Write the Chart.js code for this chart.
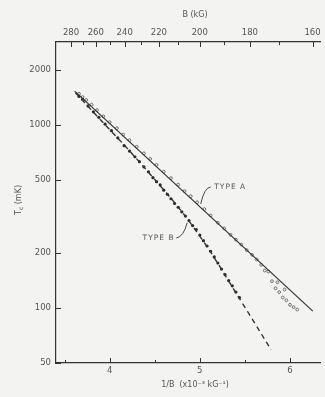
<!DOCTYPE html>
<html>
<head>
<meta charset="utf-8">
<script src="https://cdn.jsdelivr.net/npm/chart.js@4.4.0/dist/chart.umd.min.js"></script>
<style>
  html, body { margin: 0; padding: 0; background: #f3f3f1; }
  #wrap { width: 325px; height: 397px; }
</style>
</head>
<body>
<div id="wrap"><canvas id="chart"></canvas></div>
<script>
// 1/B in units of 1e-3 kG^-1, Tc in mK
const invB_A = [3.66, 3.70, 3.74, 3.80, 3.86, 3.93, 4.00, 4.08, 4.15, 4.22, 4.30, 4.38, 4.45, 4.52,
                4.60, 4.68, 4.76, 4.83, 4.90, 4.97, 5.05, 5.12, 5.20, 5.27, 5.34, 5.40, 5.46, 5.52,
                5.58, 5.63, 5.68, 5.72, 5.76, 5.80, 5.84, 5.86, 5.88, 5.92, 5.94, 5.96, 6.00, 6.04, 6.08];
const tc_A   = [1480, 1420, 1370, 1290, 1205, 1115, 1035, 960, 885, 825, 760, 700, 652, 605,
                555, 512, 472, 435, 408, 378, 347, 320, 292, 272, 251, 236, 222, 207,
                195, 184, 172, 160, 158, 140, 128, 138, 122, 114, 126, 110, 104, 101, 98];

const invB_B = [3.66, 3.70, 3.76, 3.82, 3.88, 3.95, 4.02, 4.09, 4.16, 4.22, 4.28, 4.33, 4.38, 4.43,
                4.48, 4.52, 4.56, 4.60, 4.64, 4.68, 4.72, 4.76, 4.80, 4.84, 4.88, 4.92, 4.96, 5.00,
                5.04, 5.08, 5.12, 5.16, 5.20, 5.24, 5.28, 5.32, 5.36, 5.40, 5.44];
const tc_B   = [1430, 1380, 1270, 1180, 1100, 1010, 930, 850, 770, 720, 670, 630, 590, 555,
                515, 490, 470, 440, 418, 395, 372, 355, 335, 318, 300, 282, 268, 250,
                233, 218, 204, 190, 176, 163, 152, 141, 132, 122, 114];

// fitted lines
const fitA_x = [3.612, 6.253];
const fitA_y = [1531, 96];
const curveB_x = [3.62, 3.90, 4.20, 4.50, 4.80, 5.10, 5.40, 5.60, 5.79];
const curveB_y = [1500, 1065, 740, 503, 336, 209, 121, 84, 59];

// axes
const xTicks = [4, 5, 6];
const xMinor = [3.5, 4.5, 5.5];
const yTicks = [50, 100, 200, 500, 1000, 2000];
const bTicks = [280, 270, 260, 250, 240, 230, 220, 210, 200, 190, 180, 170, 160];
const bLabels = [280, 260, 240, 220, 200, 180, 160];

const ink = '#333';
const textInk = '#555';
const font = "'DejaVu Sans', sans-serif";

const toXY = (xs, ys) => xs.map((x, i) => ({x: x, y: ys[i]}));

// inward tick marks, axis titles, curve labels
const decorations = {
    id: 'decorations',
    afterDraw(chart) {
        const ctx = chart.ctx;
        const {x, x2, y} = chart.scales;
        const area = chart.chartArea;
        ctx.save();
        ctx.strokeStyle = ink;
        ctx.lineWidth = 1;
        ctx.beginPath();
        xTicks.forEach(v => {
            const px = Math.round(x.getPixelForValue(v)) + 0.5;
            ctx.moveTo(px, area.bottom); ctx.lineTo(px, area.bottom - 5);
        });
        xMinor.forEach(v => {
            const px = Math.round(x.getPixelForValue(v)) + 0.5;
            ctx.moveTo(px, area.bottom); ctx.lineTo(px, area.bottom - 3);
        });
        bTicks.forEach(b => {
            const px = Math.round(x2.getPixelForValue(1000 / b)) + 0.5;
            const len = bLabels.includes(b) ? 5 : 3;
            ctx.moveTo(px, area.top); ctx.lineTo(px, area.top + len);
        });
        yTicks.forEach(v => {
            const py = Math.round(y.getPixelForValue(v)) + 0.5;
            ctx.moveTo(area.left, py); ctx.lineTo(area.left + 5, py);
        });
        ctx.stroke();

        ctx.fillStyle = textInk;
        ctx.textBaseline = 'middle';
        ctx.textAlign = 'center';
        ctx.font = '8px ' + font;
        ctx.fillText('B (kG)', 195, 15);
        ctx.fillText('1/B  (x10\u207B\u00B3 kG\u207B\u00B9)', 195, 385);

        // y title with subscript c
        ctx.save();
        ctx.translate(19, 200);
        ctx.rotate(-Math.PI / 2);
        ctx.textAlign = 'left';
        ctx.font = '8px ' + font;
        const wT = ctx.measureText('T').width;
        const rest = ' (mK)';
        const wR = ctx.measureText(rest).width;
        ctx.font = '6px ' + font;
        const wc = ctx.measureText('c').width;
        let start = -(wT + wc + wR) / 2;
        ctx.font = '8px ' + font;
        ctx.fillText('T', start, 0);
        ctx.font = '6px ' + font;
        ctx.fillText('c', start + wT, 2.5);
        ctx.font = '8px ' + font;
        ctx.fillText(rest, start + wT + wc, 0);
        ctx.restore();

        // curve labels with leader lines
        ctx.font = '7.5px ' + font;
        if ('letterSpacing' in ctx) ctx.letterSpacing = '1px';
        ctx.textAlign = 'left';
        ctx.fillText('TYPE A', x.getPixelForValue(5.16), y.getPixelForValue(458));
        ctx.textAlign = 'right';
        ctx.fillText('TYPE B', x.getPixelForValue(4.72), y.getPixelForValue(241));

        ctx.lineWidth = 0.9;
        ctx.beginPath();
        ctx.moveTo(x.getPixelForValue(5.01), y.getPixelForValue(370));
        ctx.quadraticCurveTo(x.getPixelForValue(5.05), y.getPixelForValue(455),
                             x.getPixelForValue(5.12), y.getPixelForValue(458));
        ctx.moveTo(x.getPixelForValue(4.74), y.getPixelForValue(241));
        ctx.quadraticCurveTo(x.getPixelForValue(4.82), y.getPixelForValue(245),
                             x.getPixelForValue(4.86), y.getPixelForValue(292));
        ctx.stroke();
        ctx.restore();
    }
};

const tickFont = {family: font, size: 8.5};

new Chart(document.getElementById('chart'), {
    type: 'scatter',
    data: {
        datasets: [
            {
                label: 'Type A fit',
                data: toXY(fitA_x, fitA_y),
                showLine: true,
                borderColor: ink,
                borderWidth: 1.2,
                pointRadius: 0
            },
            {
                label: 'Type B fit',
                data: toXY(curveB_x, curveB_y),
                showLine: true,
                borderColor: ink,
                borderWidth: 1.4,
                borderDash: [5, 4],
                cubicInterpolationMode: 'monotone',
                pointRadius: 0
            },
            {
                label: 'Type A',
                data: toXY(invB_A, tc_A),
                pointRadius: 1.4,
                pointBorderWidth: 0.8,
                pointBorderColor: '#555',
                pointBackgroundColor: 'rgba(0,0,0,0)'
            },
            {
                label: 'Type B',
                data: toXY(invB_B, tc_B),
                pointRadius: 1.6,
                pointBorderWidth: 0,
                pointBackgroundColor: '#2a2a2a'
            }
        ]
    },
    options: {
        responsive: true,
        maintainAspectRatio: false,
        animation: false,
        devicePixelRatio: 1,
        layout: {padding: 0},
        plugins: {
            legend: {display: false},
            tooltip: {enabled: false}
        },
        scales: {
            x: {
                type: 'linear',
                position: 'bottom',
                min: 3.405,
                max: 6.335,
                afterBuildTicks: s => { s.ticks = xTicks.map(v => ({value: v})); },
                afterFit: s => { s.height = 34; s.paddingLeft = 0; s.paddingRight = 0; },
                ticks: {font: tickFont, color: textInk, padding: 3, maxRotation: 0, autoSkip: false},
                grid: {display: false, drawTicks: false},
                border: {color: ink, width: 1.2}
            },
            x2: {
                type: 'linear',
                position: 'top',
                min: 3.405,
                max: 6.335,
                afterBuildTicks: s => { s.ticks = bTicks.map(b => ({value: 1000 / b})); },
                afterFit: s => { s.height = 42; s.paddingLeft = 0; s.paddingRight = 0; },
                ticks: {
                    font: tickFont, color: textInk, padding: 4, maxRotation: 0, autoSkip: false,
                    callback: v => {
                        const b = Math.round(1000 / v);
                        return bLabels.includes(b) ? String(b) : '';
                    }
                },
                grid: {display: false, drawTicks: false},
                border: {color: ink, width: 1.2}
            },
            y: {
                type: 'logarithmic',
                min: 50,
                max: 2840,
                afterBuildTicks: s => { s.ticks = yTicks.map(v => ({value: v})); },
                afterFit: s => { s.width = 56; },
                ticks: {font: tickFont, color: textInk, padding: 5, autoSkip: false, callback: v => String(v)},
                grid: {display: false, drawTicks: false},
                border: {color: ink, width: 1.2}
            }
        }
    },
    plugins: [decorations]
});
</script>
</body>
</html>
